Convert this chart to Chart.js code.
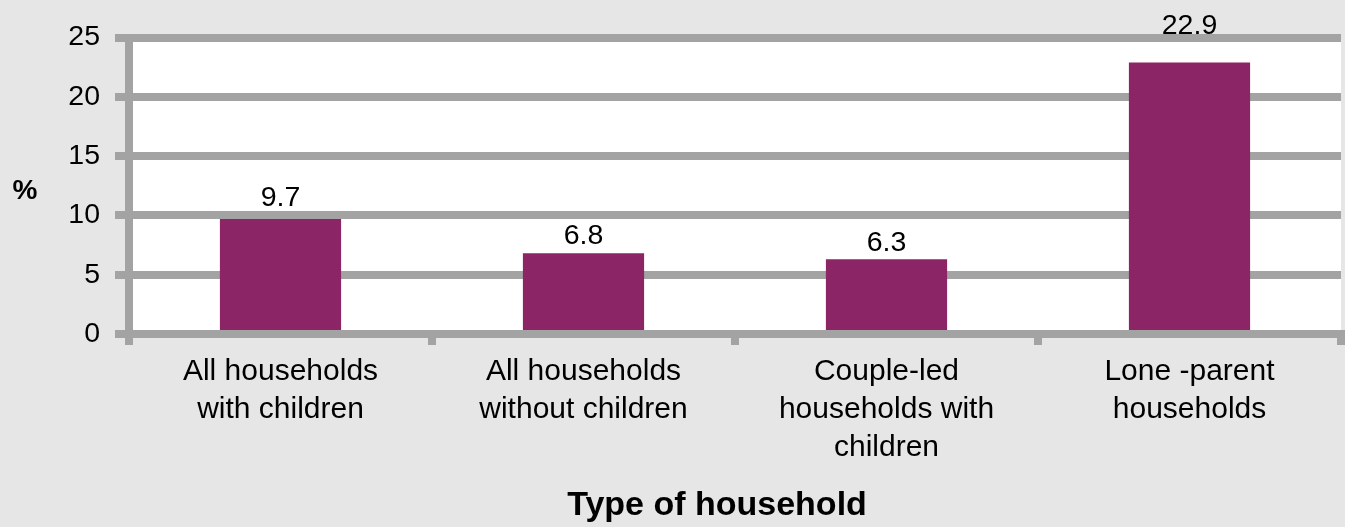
<!DOCTYPE html>
<html><head><meta charset="utf-8">
<script src="https://cdn.jsdelivr.net/npm/chart.js@4/dist/chart.umd.min.js"></script>
<style>html,body{margin:0;padding:0;background:#e6e6e6;}#wrap{width:1345px;height:527px;position:relative;}</style>
</head><body><div id="wrap"><canvas id="c"></canvas></div>
<script>
const categories = [["All households","with children"],["All households","without children"],["Couple-led","households with","children"],["Lone -parent","households"]];
const values = [9.7, 6.8, 6.3, 22.9];
const valueLabels = ["9.7", "6.8", "6.3", "22.9"];
const yTicks = [0, 5, 10, 15, 20, 25];
const yAxisLabel = "%";
const xAxisTitle = "Type of household";

const FONT = '"Liberation Sans", Arial, Helvetica, sans-serif';
const GRID = '#a3a3a3';
const BAR = '#8b2565';

const decor = {
  id: 'decor',
  beforeDraw(chart) {
    const {ctx, chartArea: a} = chart;
    ctx.save();
    ctx.fillStyle = '#e6e6e6';
    ctx.fillRect(0, 0, chart.width, chart.height);
    ctx.fillStyle = '#ffffff';
    ctx.fillRect(a.left, a.top, a.right - a.left, a.bottom - a.top);
    ctx.restore();
  },
  afterDraw(chart) {
    const {ctx, chartArea: a} = chart;
    const meta = chart.getDatasetMeta(0);
    const ys = chart.scales.y;
    ctx.save();
    ctx.fillStyle = '#000';
    ctx.font = '28.5px ' + FONT;
    ctx.textAlign = 'center';
    ctx.textBaseline = 'alphabetic';
    meta.data.forEach((bar, i) => {
      ctx.fillText(valueLabels[i], bar.x, ys.getPixelForValue(values[i] * 1.1) - 1);
    });
    ctx.font = 'bold 28px ' + FONT;
    ctx.textBaseline = 'middle';
    ctx.fillText(yAxisLabel, 25, (a.top + a.bottom) / 2 + 6);
    ctx.font = 'bold 34px ' + FONT;
    ctx.textBaseline = 'alphabetic';
    ctx.fillText(xAxisTitle, (a.left + a.right) / 2 - 18, chart.height - 12);
    ctx.restore();
  }
};

new Chart(document.getElementById('c'), {
  type: 'bar',
  data: {
    labels: categories,
    datasets: [{
      data: values,
      backgroundColor: BAR,
      borderWidth: 0,
      categoryPercentage: 1.0,
      barPercentage: 0.4
    }]
  },
  options: {
    responsive: true,
    maintainAspectRatio: false,
    animation: false,
    devicePixelRatio: 1,
    layout: { padding: { top: 37.5, right: 4, left: 0, bottom: 0 } },
    plugins: { legend: { display: false }, tooltip: { enabled: false }, title: { display: false } },
    scales: {
      x: {
        z: 1,
        grid: { offset: true, drawOnChartArea: false, drawTicks: true, tickLength: 11, lineWidth: 8, color: GRID },
        border: { display: true, width: 8, color: GRID },
        ticks: { color: '#000', font: { family: FONT, size: 30, lineHeight: '38px' }, padding: 8, maxRotation: 0, autoSkip: false },
        afterFit(s) { s.height = 527 - 334; }
      },
      y: {
        min: 0, max: 25,
        afterBuildTicks(s) { s.ticks = yTicks.map(v => ({ value: v })); },
        grid: { drawTicks: true, tickLength: 14, lineWidth: 8, color: GRID },
        border: { display: true, width: 8, color: GRID },
        ticks: { color: '#000', font: { family: FONT, size: 28.5 }, padding: 15 },
        afterFit(s) { s.width = 129; }
      }
    }
  },
  plugins: [decor]
});
</script>
</body></html>
